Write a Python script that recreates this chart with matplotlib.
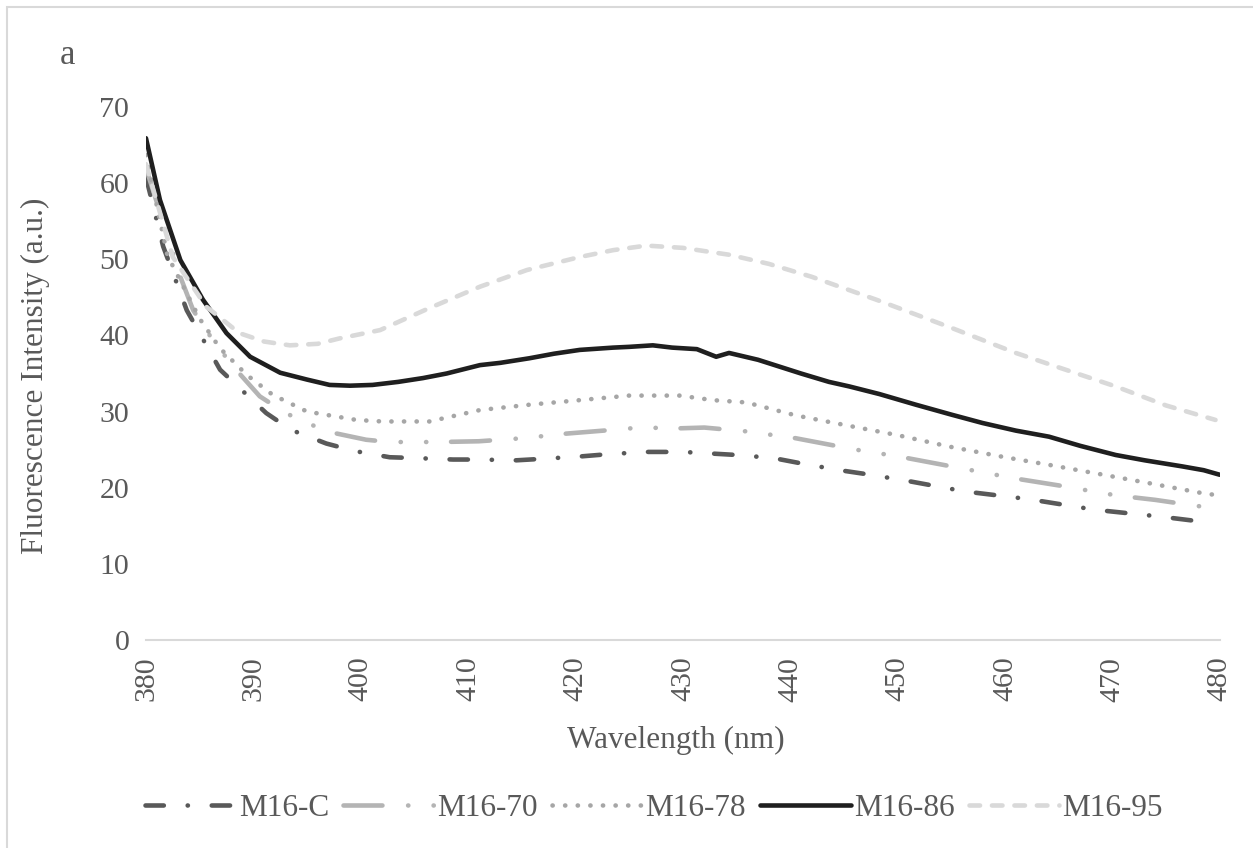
import matplotlib
matplotlib.use("Agg")
import matplotlib.pyplot as plt
from matplotlib.patches import Rectangle

# values
WL_C = [380, 381.6, 383.8, 386.9, 391.2, 393.5, 396.8, 399.5, 402.7, 405, 408.6, 411, 414.5, 417,
        420.4, 423, 426.6, 430, 432.5, 435, 438.4, 441, 444.6, 447, 450.5, 456.3, 462.2, 468.4,
        474.5, 477.4, 478]
M16_C = [60.8, 51.7, 43.3, 35.5, 29.8, 27.6, 25.8, 24.8, 24.0, 23.9, 23.7, 23.7, 23.6, 23.8,
         24.1, 24.4, 24.7, 24.7, 24.5, 24.3, 23.9, 23.2, 22.3, 21.8, 21.0, 19.5, 18.5, 17.1,
         16.2, 15.7, 15.6]

WL_70 = [380, 383.2, 384.4, 386.5, 388.7, 390.6, 393, 396.8, 400.5, 402.7, 407.3, 411, 415.1,
         419.1, 423.5, 426, 429.7, 432, 435.9, 440.5, 446.1, 450.1, 455, 461, 465, 470.3, 474,
         477.4, 480]
M16_70 = [62.0, 47.7, 43.3, 38.8, 35.0, 32.0, 29.8, 27.4, 26.3, 26.0, 26.0, 26.1, 26.5,
          27.1, 27.6, 27.9, 27.8, 27.9, 27.4, 26.5, 25.0, 24.1, 22.8, 21.2, 20.3, 19.0, 18.4,
          17.7, 17.2]

WL_78 = [380, 382, 385, 386.9, 389.4, 391.8, 395, 399.6, 402, 406.4, 411.1, 415.7, 420.4, 425,
         429.7, 432.8, 435.9, 440.5, 445.2, 450, 454.8, 460, 464.1, 468, 473.4, 478.7, 480]
M16_78 = [63.7, 50.5, 42.2, 38.3, 34.8, 32.2, 30.0, 28.9, 28.7, 28.7, 30.2, 30.9, 31.5, 32.1,
          32.1, 31.5, 31.2, 29.5, 28.2, 26.9, 25.4, 24.0, 23.0, 22.0, 20.6, 19.2, 19.0]

WL_86 = [380, 381.3, 383.2, 385.3, 387.5, 389.7, 392.5, 395, 397.1, 399, 401.1, 403.5, 405.8,
         408, 411.1, 413, 415.7, 418, 420.4, 423.5, 425, 427.2, 429, 431.3, 433.1, 434.3, 437,
         439, 441, 443.6, 445.5, 448.3, 451.7, 455, 457.9, 461, 464.1, 467, 470.3, 473, 476.5,
         478.5, 480]
M16_86 = [65.9, 57.8, 49.9, 44.7, 40.3, 37.2, 35.1, 34.2, 33.5, 33.4, 33.5, 33.9, 34.4,
          35.0, 36.1, 36.4, 37.0, 37.6, 38.1, 38.4, 38.5, 38.7, 38.4, 38.2, 37.2, 37.7, 36.8,
          35.9, 35.0, 33.9, 33.3, 32.3, 30.9, 29.6, 28.5, 27.5, 26.7, 25.5, 24.3, 23.6, 22.8,
          22.3, 21.7]

WL_95 = [380, 382.5, 385.6, 388.7, 391, 393.4, 396, 398, 401.8, 406.4, 411.1, 415.5, 420.4,
         423.5, 426.6, 430, 434.3, 438, 442, 448, 455, 461, 465, 470.3, 475, 479.6]
M16_95 = [62.5, 50.3, 43.8, 40.3, 39.2, 38.7, 38.9, 39.6, 40.7, 43.6, 46.4, 48.6, 50.3,
          51.2, 51.8, 51.5, 50.6, 49.4, 47.7, 44.7, 41.0, 37.7, 35.8, 33.3, 30.8, 28.9]

X_TICKS = list(range(380, 481, 10))
Y_TICKS = list(range(0, 71, 10))

TEXT_COLOR = "#595959"
FONT = "Liberation Serif"
LW = 3.3
DOT = 0.05

plt.rcParams["font.family"] = FONT

fig = plt.figure(figsize=(12.53, 8.48), dpi=100)
ax = fig.add_axes([0.1165, 0.2453, 0.857, 0.6285])

series = [
    (WL_C, M16_C, "M16-C", "#595959", (0, (4.0, 5.2, DOT, 5.2))),
    (WL_70, M16_70, "M16-70", "#B4B4B4", (0, (8.5, 5.6, DOT, 5.5, DOT, 5.4))),
    (WL_78, M16_78, "M16-78", "#A6A6A6", (0, (DOT, 2.7))),
    (WL_86, M16_86, "M16-86", "#1F1F1F", "-"),
    (WL_95, M16_95, "M16-95", "#D9D9D9", (0, (2.3, 2.6))),
]
for wl, vals, name, color, style in series:
    ax.plot(wl, vals, color=color, linestyle=style, linewidth=LW, label=name,
            dash_capstyle="round", solid_capstyle="round")

ax.set_xlim(380, 480)
ax.set_ylim(0, 70)
ax.set_xticks(X_TICKS)
ax.set_yticks(Y_TICKS)
ax.tick_params(length=0, labelsize=21.5, labelcolor=TEXT_COLOR, pad=12)
ax.tick_params(axis="x", labelrotation=90)
for side in ["top", "right", "left"]:
    ax.spines[side].set_visible(False)
ax.spines["bottom"].set_color("#D9D9D9")
ax.spines["bottom"].set_linewidth(1.5)

fig.text(0.5395, 0.127, "Wavelength (nm)", ha="center", va="center", fontsize=22.5, color=TEXT_COLOR)
fig.text(0.028, 0.557, "Fluorescence Intensity (a.u.)", ha="center", va="center",
         rotation=90, fontsize=22.5, color=TEXT_COLOR)
fig.text(0.054, 0.935, "a", ha="center", va="center", fontsize=25, color=TEXT_COLOR)

fig.legend(loc="center", bbox_to_anchor=(0.522, 0.047), ncol=5, frameon=False,
           fontsize=22.5, labelcolor=TEXT_COLOR, handlelength=2.9, handletextpad=0.1,
           columnspacing=0.45)

fig.patches.append(Rectangle((7 / 1253, -0.1), 2, 1.1 - 7 / 848, transform=fig.transFigure,
                             fill=False, edgecolor="#D9D9D9", linewidth=1.5))

fig.savefig("out.png", dpi=100)
